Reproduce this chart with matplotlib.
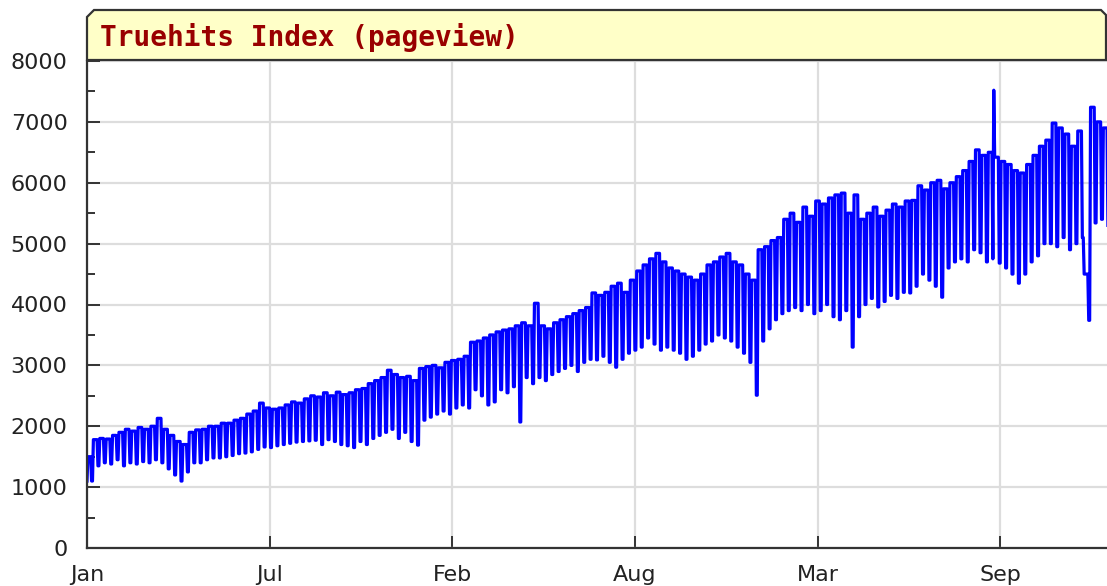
import numpy as np
import matplotlib
matplotlib.use("Agg")
from matplotlib import pyplot as plt
from matplotlib.patches import Polygon
from matplotlib.ticker import MultipleLocator, FixedLocator, FixedFormatter

# weekly levels (weekday plateau / weekend low), 160 weeks from day 0
week_high = [
    1500, 1780, 1800, 1790, 1850, 1900, 1950, 1920, 1980, 1950,
    2000, 2130, 1950, 1850, 1750, 1700, 1900, 1940, 1950, 2000,
    2000, 2050, 2050, 2100, 2130, 2200, 2250, 2380, 2300, 2280,
    2300, 2350, 2400, 2380, 2450, 2500, 2480, 2550, 2500, 2560,
    2520, 2550, 2600, 2620, 2700, 2750, 2800, 2920, 2850, 2800,
    2820, 2750, 2950, 2980, 3000, 2960, 3050, 3080, 3100, 3150,
    3380, 3400, 3450, 3500, 3550, 3580, 3600, 3650, 3700, 3650,
    4020, 3650, 3600, 3700, 3750, 3800, 3850, 3900, 3950, 4190,
    4150, 4200, 4300, 4350, 4200, 4400, 4550, 4650, 4750, 4840,
    4700, 4600, 4550, 4500, 4450, 4400, 4500, 4650, 4700, 4780,
    4840, 4700, 4650, 4500, 4400, 4900, 4950, 5050, 5100, 5400,
    5500, 5350, 5600, 5450, 5700, 5650, 5750, 5800, 5830, 5500,
    5800, 5400, 5500, 5600, 5450, 5550, 5650, 5600, 5700, 5710,
    5950, 5880, 6000, 6040, 5900, 6000, 6100, 6200, 6350, 6540,
    6450, 6500, 6420, 6350, 6300, 6200, 6160, 6300, 6450, 6600,
    6700, 6980, 6900, 6800, 6600, 6850, 4500, 7240, 7000, 6900,
]
week_low = [
    1100, 1350, 1400, 1380, 1450, 1350, 1400, 1380, 1420, 1400,
    1450, 1400, 1300, 1200, 1100, 1250, 1400, 1400, 1450, 1480,
    1480, 1500, 1520, 1550, 1560, 1580, 1620, 1660, 1650, 1680,
    1700, 1720, 1740, 1750, 1760, 1770, 1700, 1780, 1750, 1700,
    1680, 1650, 1750, 1700, 1800, 1850, 1900, 1950, 1800, 1900,
    1750, 1690, 2100, 2150, 2200, 2250, 2200, 2300, 2350, 2300,
    2600, 2500, 2350, 2400, 2600, 2550, 2650, 2070, 2800, 2700,
    2800, 2750, 2850, 2900, 2950, 3000, 2900, 3050, 3100, 3090,
    3150, 3050, 2970, 3100, 3200, 3250, 3300, 3450, 3350, 3250,
    3300, 3250, 3200, 3100, 3150, 3250, 3350, 3400, 3500, 3450,
    3400, 3300, 3200, 3050, 2510, 3400, 3600, 3750, 3850, 3900,
    3950, 3900, 4000, 3850, 3900, 4000, 3800, 3750, 3900, 3300,
    3800, 4000, 4100, 3960, 4050, 4150, 4100, 4200, 4190, 4300,
    4500, 4400, 4300, 4120, 4600, 4700, 4750, 4700, 4900, 4850,
    4700, 4750, 4680, 4600, 4500, 4350, 4500, 4700, 4800, 5000,
    5000, 4950, 5100, 4900, 5000, 5100, 3740, 5340, 5400, 5300,
]
# single-day outliers
spike_days = [0, 993]
spike_vals = [1100, 7520]

tick_days = [0, 200, 400, 600, 800, 1000]
tick_labels = ["Jan", "Jul", "Feb", "Aug", "Mar", "Sep"]

values = []
for hi, lo in zip(week_high, week_low):
    values += [hi] * 5 + [lo] * 2
values = np.array(values, dtype=float)
values[spike_days] = spike_vals
days = np.arange(len(values))

W, H = 1107, 586
fig = plt.figure(figsize=(W / 100, H / 100), dpi=100)
ax = fig.add_axes([87 / W, 1 - 548 / H, (1107 - 87) / W, (548 - 61) / H])

ax.plot(days, values, color="#0000ff", lw=2.3)

ax.set_xlim(0, 1117)
ax.set_ylim(0, 8000)
ax.yaxis.set_major_locator(MultipleLocator(1000))
ax.yaxis.set_minor_locator(MultipleLocator(500))
ax.xaxis.set_major_locator(FixedLocator(tick_days))
ax.xaxis.set_major_formatter(FixedFormatter(tick_labels))

ax.grid(True, which="major", color="#dddddd", lw=1.6)
ax.set_axisbelow(True)
for s in ["top", "right"]:
    ax.spines[s].set_visible(False)
for s in ["left", "bottom"]:
    ax.spines[s].set_color("#333333")
    ax.spines[s].set_linewidth(1.6)

ax.tick_params(which="major", direction="in", length=9, width=1.4, color="#333333",
               labelsize=16, labelcolor="#222222")
ax.tick_params(which="minor", direction="in", length=6, width=1.4, color="#333333")
ax.tick_params(axis="y", pad=14)
ax.tick_params(axis="x", pad=12)

# title box with cut top-left corner
pts = [(87, 60), (87, 17), (94, 10), (1101, 10), (1106, 15), (1106, 60)]
box = Polygon([(x / W, 1 - y / H) for x, y in pts], closed=True,
              transform=fig.transFigure, facecolor="#ffffc8",
              edgecolor="#333333", lw=1.6)
fig.patches.append(box)
fig.text(100 / W, 1 - 37 / H, "Truehits Index (pageview)", family="DejaVu Sans Mono",
         weight="bold", size=20, color="#990000", va="center")

fig.savefig("out.png", dpi=100)
